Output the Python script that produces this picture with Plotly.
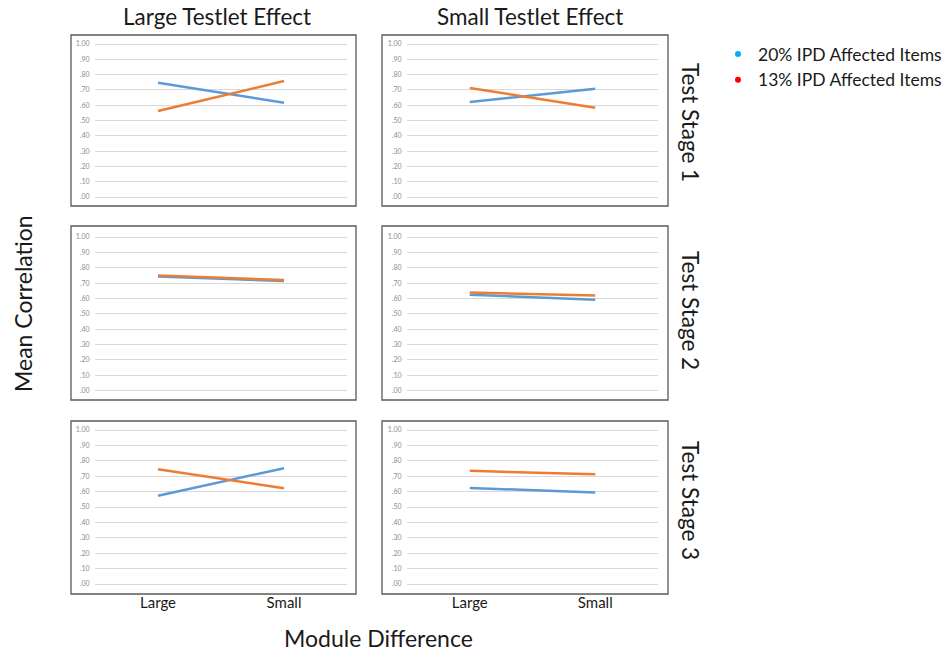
import plotly.graph_objects as go

W, H = 948, 651

categories = ["Large", "Small"]
col_titles = ["Large Testlet Effect", "Small Testlet Effect"]
row_titles = ["Test Stage 1", "Test Stage 2", "Test Stage 3"]
series_names = ["20% IPD Affected Items", "13% IPD Affected Items"]

# values per panel: [row][col]
blue_vals = [
    [[0.747, 0.616], [0.621, 0.708]],
    [[0.743, 0.713], [0.624, 0.591]],
    [[0.573, 0.752], [0.624, 0.594]],
]
orange_vals = [
    [[0.562, 0.758], [0.712, 0.584]],
    [[0.750, 0.720], [0.638, 0.619]],
    [[0.745, 0.622], [0.735, 0.712]],
]

tick_vals = [i / 10 for i in range(11)]
tick_text = [".00", ".10", ".20", ".30", ".40", ".50", ".60", ".70", ".80", ".90", "1.00"]

FONT = "Lato"
BLUE = "#5B9BD5"
ORANGE = "#ED7D31"
TXT = "#1a1a1a"

def px_x(p):
    return p / W

def px_y(p):
    return 1 - p / H

# layout geometry (pixels)
col_grid = [(95, 347), (407, 658)]
row_grid = [(44, 197), (237, 390.5), (430, 584)]
col_box = [(71, 356), (382, 668)]
row_box = [(35, 206), (226, 400), (421, 594)]
PAD = 0.05

fig = go.Figure()
layout = dict(
    width=W, height=H, margin=dict(l=0, r=0, t=0, b=0),
    paper_bgcolor="white", plot_bgcolor="white",
    font=dict(family=FONT, color=TXT),
    showlegend=True,
)
shapes = []
annotations = []

idx = 0
for r in range(3):
    for c in range(2):
        idx += 1
        xn = "x" if idx == 1 else f"x{idx}"
        yn = "y" if idx == 1 else f"y{idx}"
        xk = "xaxis" if idx == 1 else f"xaxis{idx}"
        yk = "yaxis" if idx == 1 else f"yaxis{idx}"
        gt, gb = row_grid[r]
        unit = gb - gt
        top = gt - PAD * unit
        bot = gb + PAD * unit
        layout[xk] = dict(
            domain=[px_x(col_grid[c][0]), px_x(col_grid[c][1])],
            anchor=yn, type="category", categoryarray=categories,
            range=[-0.5, 1.5], showgrid=False, zeroline=False, showline=False,
            showticklabels=(r == 2), ticks="",
            tickfont=dict(size=15, color=TXT, family=FONT),
        )
        layout[yk] = dict(
            domain=[px_y(bot), px_y(top)], anchor=xn,
            range=[-PAD, 1 + PAD], tickvals=tick_vals, ticktext=tick_text,
            tickfont=dict(size=7, color="#8c8c8c", family=FONT),
            showgrid=True, gridcolor="#d9d9d9", gridwidth=1,
            zeroline=False, showline=False, ticks="outside", ticklen=3,
            tickcolor="rgba(0,0,0,0)",
        )
        fig.add_trace(go.Scatter(
            x=categories, y=blue_vals[r][c], mode="lines",
            line=dict(color=BLUE, width=2.5), xaxis=xn, yaxis=yn,
            showlegend=False, name=series_names[0],
        ))
        fig.add_trace(go.Scatter(
            x=categories, y=orange_vals[r][c], mode="lines",
            line=dict(color=ORANGE, width=2.5), xaxis=xn, yaxis=yn,
            showlegend=False, name=series_names[1],
        ))
        shapes.append(dict(
            type="rect", xref="paper", yref="paper",
            x0=px_x(col_box[c][0]), x1=px_x(col_box[c][1]),
            y0=px_y(row_box[r][1]), y1=px_y(row_box[r][0]),
            line=dict(color="#595959", width=1.3), fillcolor="rgba(0,0,0,0)",
        ))

# legend entries (dots as in the reference)
fig.add_trace(go.Scatter(x=[None], y=[None], mode="markers", name=series_names[0],
                         marker=dict(color="#00B0F0", size=6), showlegend=True))
fig.add_trace(go.Scatter(x=[None], y=[None], mode="markers", name=series_names[1],
                         marker=dict(color="#FF0000", size=6), showlegend=True))

layout["legend"] = dict(
    x=px_x(718), y=px_y(36), xanchor="left", yanchor="top",
    font=dict(size=17.5, color=TXT, family=FONT),
    bgcolor="rgba(0,0,0,0)", itemclick=False,
)

col_centers = [217, 530]
for c, t in enumerate(col_titles):
    annotations.append(dict(text=t, x=px_x(col_centers[c]), y=px_y(17),
                            xref="paper", yref="paper", showarrow=False,
                            xanchor="center", yanchor="middle",
                            font=dict(size=22.5, family=FONT, color=TXT)))
row_centers = [122, 310, 500]
for r, t in enumerate(row_titles):
    annotations.append(dict(text=t, x=px_x(691), y=px_y(row_centers[r]),
                            xref="paper", yref="paper", showarrow=False,
                            textangle=90, xanchor="center", yanchor="middle",
                            font=dict(size=22.5, family=FONT, color=TXT)))
annotations.append(dict(text="Mean Correlation", x=px_x(23), y=px_y(304),
                        xref="paper", yref="paper", showarrow=False,
                        textangle=-90, xanchor="center", yanchor="middle",
                        font=dict(size=23, family=FONT, color=TXT)))
annotations.append(dict(text="Module Difference", x=px_x(378), y=px_y(638),
                        xref="paper", yref="paper", showarrow=False,
                        xanchor="center", yanchor="middle",
                        font=dict(size=23, family=FONT, color=TXT)))

layout["shapes"] = shapes
layout["annotations"] = annotations
fig.update_layout(**layout)
fig.write_html("out.html")
